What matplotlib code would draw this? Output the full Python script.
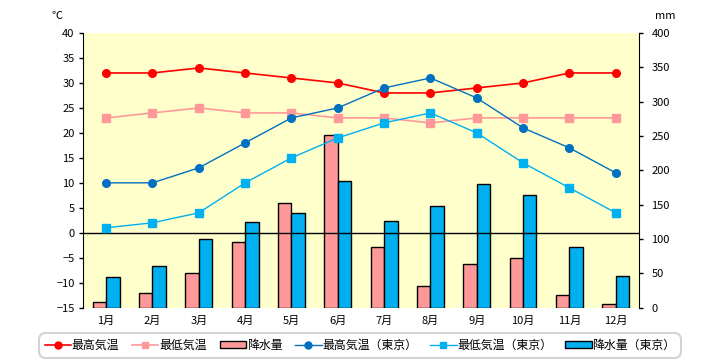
import matplotlib
matplotlib.use('Agg')
import matplotlib.pyplot as plt
from matplotlib.patches import Patch
from matplotlib.lines import Line2D

plt.rcParams['font.family'] = ['Noto Sans CJK JP', 'DejaVu Sans']

# data
months = ['1月', '2月', '3月', '4月', '5月', '6月', '7月', '8月', '9月', '10月', '11月', '12月']
max_temp = [32, 32, 33, 32, 31, 30, 28, 28, 29, 30, 32, 32]
min_temp = [23, 24, 25, 24, 24, 23, 23, 22, 23, 23, 23, 23]
rain = [8, 22, 51, 95, 152, 251, 89, 31, 63, 73, 18, 6]
tokyo_max = [10, 10, 13, 18, 23, 25, 29, 31, 27, 21, 17, 12]
tokyo_min = [1, 2, 4, 10, 15, 19, 22, 24, 20, 14, 9, 4]
tokyo_rain = [45.1, 60.4, 99.5, 125.0, 138.0, 185.0, 126.1, 147.5, 179.8, 164.1, 89.1, 45.7]

c_red = '#FF0000'
c_pink = '#FF9999'
c_blue = '#0070C0'
c_cyan = '#00B0F0'

fig = plt.figure(figsize=(7.2, 3.6), dpi=100)
ax = fig.add_axes([0.1153, 0.1453, 0.772, 0.763])
ax2 = ax.twinx()
ax.set_zorder(ax2.get_zorder() + 1)
ax.patch.set_visible(False)
ax2.patch.set_visible(True)
ax2.patch.set_facecolor('#FFFFCC')

x = list(range(len(months)))
w = 0.29
ax2.bar([i - w / 2 for i in x], rain, width=w, color=c_pink, edgecolor='black', linewidth=1)
ax2.bar([i + w / 2 for i in x], tokyo_rain, width=w, color=c_cyan, edgecolor='black', linewidth=1)

ax.axhline(0, color='black', linewidth=1)
ax.plot(x, max_temp, color=c_red, linewidth=1.2, marker='o', ms=5.5)
ax.plot(x, min_temp, color=c_pink, linewidth=1.2, marker='s', ms=5.5)
ax.plot(x, tokyo_max, color=c_blue, linewidth=1, marker='o', ms=5.5)
ax.plot(x, tokyo_min, color=c_cyan, linewidth=1, marker='s', ms=5.5)

ax.set_xlim(-0.5, 11.5)
ax.set_ylim(-15, 40)
ax.set_yticks(range(-15, 41, 5))
ax2.set_ylim(0, 400)
ax2.set_yticks(range(0, 401, 50))
ax.set_xticks(x)
ax.set_xticklabels(months)

for a in (ax, ax2):
    a.spines['top'].set_visible(False)
    a.spines['bottom'].set_visible(False)
ax.spines['right'].set_visible(False)
ax2.spines['left'].set_visible(False)
ax.tick_params(axis='x', length=0, labelsize=8, pad=6)
ax.tick_params(axis='y', length=3, width=1, labelsize=8, pad=3)
ax2.tick_params(axis='y', length=3, width=1, labelsize=8, pad=6)

fig.text(57 / 720, 1 - 16 / 360, '℃', fontsize=8, ha='center', va='center')
fig.text(665 / 720, 1 - 16 / 360, 'mm', fontsize=8, ha='center', va='center')

handles = [
    Line2D([], [], color=c_red, marker='o', ms=5, linewidth=1.2),
    Line2D([], [], color=c_pink, marker='s', ms=5, linewidth=1.2),
    Patch(facecolor=c_pink, edgecolor='black', linewidth=1),
    Line2D([], [], color=c_blue, marker='o', ms=5, linewidth=1),
    Line2D([], [], color=c_cyan, marker='s', ms=5, linewidth=1),
    Patch(facecolor=c_cyan, edgecolor='black', linewidth=1),
]
labels = ['最高気温', '最低気温', '降水量', '最高気温（東京）', '最低気温（東京）', '降水量（東京）']
leg = fig.legend(handles, labels, loc='center', bbox_to_anchor=(0.5, 0.041), ncol=6,
                 fontsize=8.6, frameon=True, fancybox=True, handlelength=2.2,
                 handleheight=0.5, handletextpad=0.05, columnspacing=1.1, borderpad=0.5)
leg.get_frame().set_edgecolor('#C8C8C8')
leg.get_frame().set_linewidth(1.5)
leg.get_frame().set_boxstyle('round', pad=0, rounding_size=0.6)

fig.savefig('out.png', dpi=100)
